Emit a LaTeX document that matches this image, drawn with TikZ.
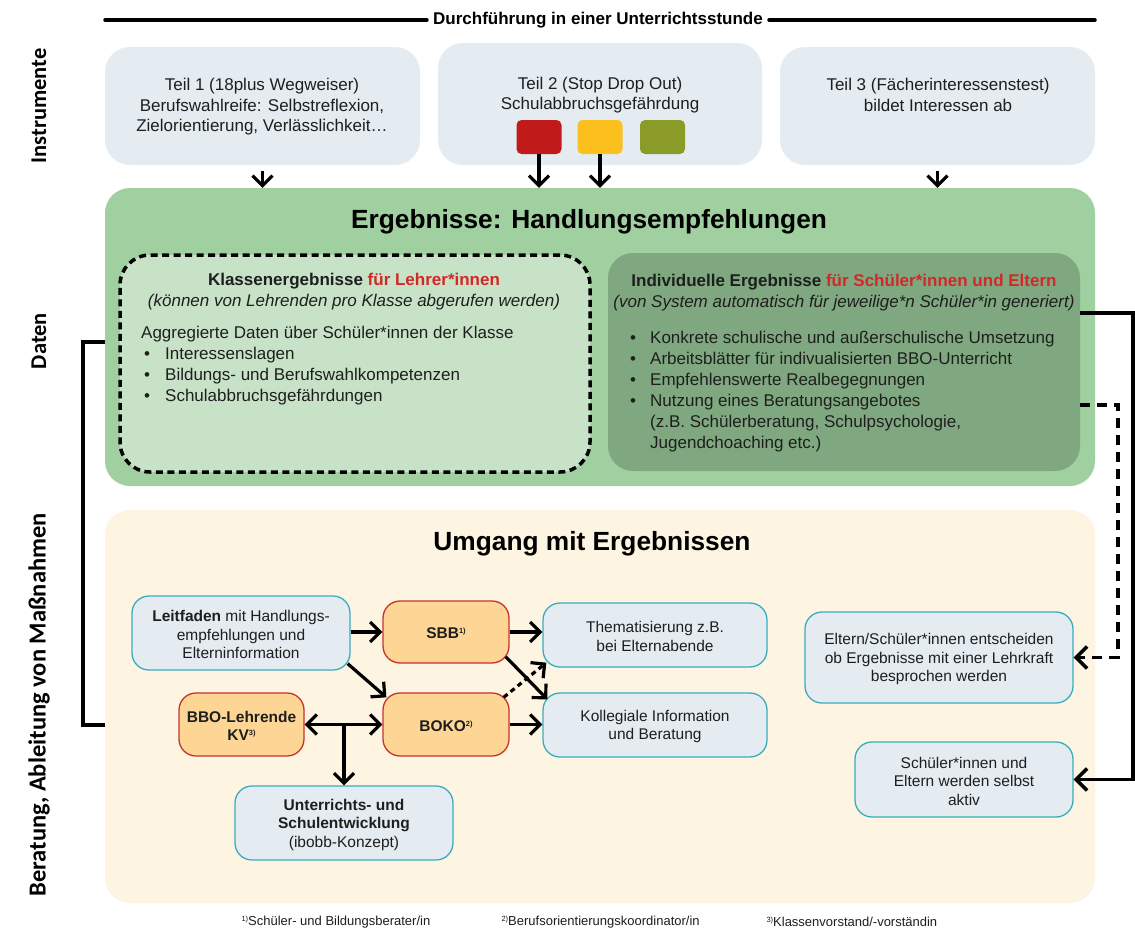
\documentclass[tikz,border=0pt]{standalone}
\usepackage{fontspec}
\setmainfont{Liberation Sans}
\newfontfamily\labfont{Carlito}
\usetikzlibrary{arrows.meta,fit}
\definecolor{instf}{HTML}{E4ECF1}
\definecolor{grnf}{HTML}{A0CFA0}
\definecolor{grnl}{HTML}{C8E2C8}
\definecolor{grnd}{HTML}{80A880}
\definecolor{cream}{HTML}{FDF5E1}
\definecolor{orgf}{HTML}{FDD696}
\definecolor{orgb}{HTML}{C8322D}
\definecolor{tealb}{HTML}{3AACC0}
\definecolor{redt}{HTML}{D22828}
\definecolor{sqred}{HTML}{C01A1B}
\definecolor{sqyel}{HTML}{FBBF1E}
\definecolor{sqolv}{HTML}{8A9B28}
\definecolor{txt}{HTML}{1E1E1E}
\newcommand\supx[1]{\raisebox{0.65ex}{\fontsize{7.5}{8}\selectfont #1}}
\newcommand\bulA{\hspace*{3pt}\makebox[21pt][l]{\textbullet}}
\newcommand\bulB{\makebox[20pt][l]{\textbullet}}
\tikzset{
  panel/.style={inner sep=0pt, draw=none},
  body/.style={font=\fontsize{17}{21}\selectfont, text=txt},
  topt/.style={font=\fontsize{17}{20.5}\selectfont, text=txt, align=center},
  ttl/.style={font=\bfseries\fontsize{26.3}{30}\selectfont, text=black},
  vlab/.style={font=\labfont\bfseries\fontsize{22.5}{26}\selectfont, rotate=90, text=black},
  sq/.style={minimum width=45pt, minimum height=34pt, rounded corners=5pt, inner sep=0pt},
  flowb/.style={fill=instf, draw=tealb, line width=1.3pt, rounded corners=17pt, inner sep=0pt},
  flowo/.style={flowb, fill=orgf, draw=orgb},
  ftext/.style={align=center, inner sep=0pt, font=\fontsize{15.5}{18.5}\selectfont, text=txt, yshift=-1.5pt},
  tip/.style={},
  arr/.style={line width=3.2pt, -{Straight Barb[length=10pt,width=20pt]}},
  darr/.style={line width=3.2pt, {Straight Barb[length=10pt,width=20pt]}-{Straight Barb[length=10pt,width=20pt]}},
  dotarr/.style={arr, dash pattern=on 5pt off 4pt},
  conn/.style={line width=3.5pt, -{Straight Barb[length=11pt,width=22pt]}},
  dconn/.style={conn, dash pattern=on 10pt off 7pt},
  fnote/.style={font=\fontsize{13}{15}\selectfont, text=txt, anchor=west},
}
\begin{document}
\begin{tikzpicture}[x=1pt,y=-1pt]
\useasboundingbox (0,0) rectangle (1135,932);
\fill[white] (0,0) rectangle (1135,932);

% heading
\node[font=\bfseries\fontsize{17}{20}\selectfont, text=black, inner xsep=6pt] (hd) at (598,20) {Durchführung in einer Unterrichtsstunde};
\coordinate (hl) at (105,20);
\coordinate (hr) at (1095,20);
\draw[line width=3.5pt, line cap=round] (hl) -- (hd.west);
\draw[line width=3.5pt, line cap=round] (hd.east) -- (hr);

% side labels
\node[vlab] (lI) at (39,106) {Instrumente};
\node[vlab] (lD) at (39,341) {Daten};
\node[vlab, font=\labfont\bfseries\fontsize{24.5}{28}\selectfont] (lB) at (39,705) {Beratung, Ableitung von Maßnahmen};

% instruments
\node[panel, fill=instf, rounded corners=25pt, fit={(105,47) (420,165)}] (t1) {};
\node[panel, fill=instf, rounded corners=25pt, fit={(438,43) (762,165)}] (t2) {};
\node[panel, fill=instf, rounded corners=25pt, fit={(780,47) (1095,165)}] (t3) {};
\node[topt] (t1x) at (262,107) {Teil 1 (18plus Wegweiser)\\Berufswahlreife: Selbstreflexion,\\Zielorientierung, Verlässlichkeit…};
\node[topt] (t2x) at (600,95) {Teil 2 (Stop Drop Out)\\Schulabbruchsgefährdung};
\node[topt] (t3x) at (938,95) {Teil 3 (Fächerinteressenstest)\\bildet Interessen ab};
\node[sq, fill=sqred] (sr) at (539,137) {};
\node[sq, fill=sqyel] (sy) at (600,137) {};
\node[sq, fill=sqolv] (so) at (662.5,137) {};

% results box
\node[panel, fill=grnf, rounded corners=25pt, fit={(105,188) (1095,486)}] (grn) {};
\node[ttl] (grnT) at (589,222) {Ergebnisse: Handlungsempfehlungen};

\draw[arr] ([yshift=-6pt]t1.south) -- (t1.south |- grn.north);
\draw[arr] (sr.south) -- (sr.south |- grn.north);
\draw[arr] (sy.south) -- (sy.south |- grn.north);
\draw[arr] ([yshift=-6pt]t3.south) -- (t3.south |- grn.north);

\node[panel, fill=grnl, draw=black, line width=3.5pt, dash pattern=on 7pt off 4.5pt, rounded corners=30pt, fit={(120,255) (590,472)}] (kl) {};
\node[body, font=\bfseries\fontsize{17}{21}\selectfont] (klT) at (354,281) {Klassenergebnisse \textcolor{redt}{für Lehrer*innen}};
\node[body, font=\itshape\fontsize{17}{21}\selectfont] (klI) at (354,302) {(können von Lehrenden pro Klasse abgerufen werden)};
\node[body, anchor=north west, align=left, inner sep=0pt] (klL) at (141,326) {Aggregierte Daten über Schüler*innen der Klasse\\
\bulA Interessenslagen\\
\bulA Bildungs- und Berufswahlkompetenzen\\
\bulA Schulabbruchsgefährdungen};

\node[panel, fill=grnd, rounded corners=25pt, fit={(608,253) (1080,471)}] (ind) {};
\node[body, font=\bfseries\fontsize{17}{21}\selectfont] (indT) at (844,282) {Individuelle Ergebnisse \textcolor{redt}{für Schüler*innen und Eltern}};
\node[body, font=\itshape\fontsize{17}{21}\selectfont] (indI) at (844,303) {(von System automatisch für jeweilige*n Schüler*in generiert)};
\node[body, anchor=north west, align=left, inner sep=0pt] (indL) at (630,331) {\bulB Konkrete schulische und außerschulische Umsetzung\\
\bulB Arbeitsblätter für indivualisierten BBO-Unterricht\\
\bulB Empfehlenswerte Realbegegnungen\\
\bulB Nutzung eines Beratungsangebotes\\
\hspace*{20pt}(z.B. Schülerberatung, Schulpsychologie,\\
\hspace*{20pt}Jugendchoaching etc.)};

% handling box
\node[panel, fill=cream, rounded corners=25pt, fit={(105,510) (1095,903)}] (yel) {};
\node[ttl] (yelT) at (592,544) {Umgang mit Ergebnissen};

\node[flowb, fit={(132,596) (350,670)}] (lf) {};
\node[flowo, fit={(383,601) (509,663)}] (sbb) {};
\node[flowo, fit={(383,693) (509,756)}] (boko) {};
\node[flowo, fit={(179,693) (304,756)}] (bbo) {};
\node[flowb, fit={(235,786) (453,860)}] (ue) {};
\node[flowb, fit={(543,603) (767,667)}] (th) {};
\node[flowb, fit={(543,693) (767,757)}] (ko) {};
\node[flowb, fit={(805,612) (1073,703)}] (ent) {};
\node[flowb, fit={(855,742) (1073,817)}] (act) {};

\node[ftext] (lfx) at (lf.center) {\textbf{Leitfaden} mit Handlungs-\\empfehlungen und\\Elterninformation};
\node[ftext] (sbbx) at (sbb.center) {\textbf{SBB\supx{1)}}};
\node[ftext] (bokox) at (boko.center) {\textbf{BOKO\supx{2)}}};
\node[ftext] (bbox) at (bbo.center) {\textbf{BBO-Lehrende}\\\textbf{KV\supx{3)}}};
\node[ftext] (uex) at (ue.center) {\textbf{Unterrichts- und}\\\textbf{Schulentwicklung}\\(ibobb-Konzept)};
\node[ftext] (thx) at (th.center) {Thematisierung z.B.\\bei Elternabende};
\node[ftext] (kox) at (ko.center) {Kollegiale Information\\und Beratung};
\node[ftext] (entx) at (ent.center) {Eltern/Schüler*innen entscheiden\\ob Ergebnisse mit einer Lehrkraft\\besprochen werden};
\node[ftext] (actx) at (act.center) {Schüler*innen und\\Eltern werden selbst\\aktiv};

\draw[arr] (lf.east |- sbb.west) -- (sbb.west);
\draw[arr] ([shift={(-3,-7)}]lf.south east) -- ([shift={(4,5)}]boko.north west);
\draw[arr] (sbb.east) -- (th.west |- sbb.east);
\draw[arr] ([shift={(-4,-7)}]sbb.south east) -- ([shift={(5,7)}]ko.north west);
\draw[dotarr] ([shift={(-6,5)}]boko.north east) -- ([shift={(4,-5)}]th.south west);
\draw[arr] (boko.east) -- (ko.west |- boko.east);
\draw[darr] (bbo.east) -- (boko.west);
\draw[arr] (bbo.east -| ue.north) -- (ue.north);

% connectors outside
\coordinate (lbA) at (83,342);
\coordinate (lbB) at (83,725);
\draw[line width=3.5pt] (grn.west |- lbA) -- (lbA) -- (lbB) -- (yel.west |- lbB);
\coordinate (rs) at (1133,313);
\draw[conn] (ind.east |- rs) -- (rs) -- (rs |- act.east) -- (act.east);
\coordinate (rd) at (1118,405);
\draw[dconn] (ind.east |- rd) -- (rd) -- (rd |- ent.east) -- (ent.east);

% footnotes
\node[fnote] (fn1) at (238,922) {\supx{1)}Schüler- und Bildungsberater/in};
\node[fnote] (fn2) at (498,922) {\supx{2)}Berufsorientierungskoordinator/in};
\node[fnote] (fn3) at (763,922) {\supx{3)}Klassenvorstand/-vorständin};
\end{tikzpicture}
\end{document}
